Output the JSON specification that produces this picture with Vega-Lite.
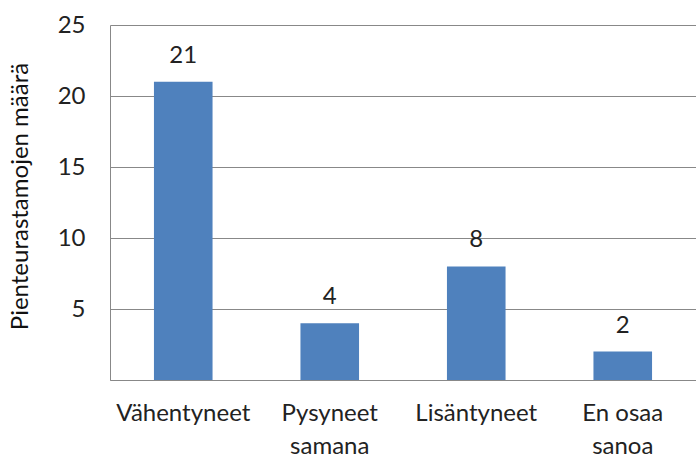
{
  "$schema": "https://vega.github.io/schema/vega-lite/v6.json",
  "autosize": "none",
  "width": 586,
  "height": 355,
  "padding": {"left": 110, "top": 25, "right": 0, "bottom": 77},
  "background": "white",
  "config": {
    "view": {"stroke": null},
    "font": "Lato"
  },
  "data": {
    "values": [
      {"kategoria": "Vähentyneet", "maara": 21},
      {"kategoria": "Pysyneet samana", "maara": 4},
      {"kategoria": "Lisäntyneet", "maara": 8},
      {"kategoria": "En osaa sanoa", "maara": 2}
    ]
  },
  "encoding": {
    "x": {
      "field": "kategoria",
      "type": "nominal",
      "sort": null,
      "scale": {"paddingInner": 0.6, "paddingOuter": 0.3},
      "axis": {
        "title": null,
        "labelAngle": 0,
        "labelFontSize": 24,
        "labelColor": "#222222",
        "labelPadding": 33,
        "labelLineHeight": 33,
        "labelBaseline": "middle",
        "ticks": false,
        "domainColor": "#888888",
        "labelExpr": "datum.label == 'Pysyneet samana' ? ['Pysyneet', 'samana'] : datum.label == 'En osaa sanoa' ? ['En osaa', 'sanoa'] : datum.label"
      }
    },
    "y": {
      "field": "maara",
      "type": "quantitative",
      "scale": {"domain": [0, 25], "nice": false},
      "axis": {
        "values": [0, 5, 10, 15, 20, 25],
        "labelExpr": "datum.value == 0 ? '' : datum.label",
        "labelFontSize": 24,
        "labelColor": "#222222",
        "labelPadding": 25,
        "ticks": false,
        "domainColor": "#888888",
        "gridColor": "#888888",
        "gridOpacity": 1,
        "title": "Pienteurastamojen määrä",
        "titleFontSize": 24,
        "titleFontWeight": "normal",
        "titleColor": "#111111",
        "titleX": -90,
        "titleY": 171,
        "titleAngle": -90,
        "titleBaseline": "middle",
        "titleAlign": "center"
      }
    }
  },
  "layer": [
    {"mark": {"type": "bar", "color": "#4F81BD"}},
    {
      "mark": {"type": "text", "dy": -26, "fontSize": 24, "color": "#222222", "baseline": "middle"},
      "encoding": {"text": {"field": "maara", "type": "quantitative"}}
    }
  ]
}
